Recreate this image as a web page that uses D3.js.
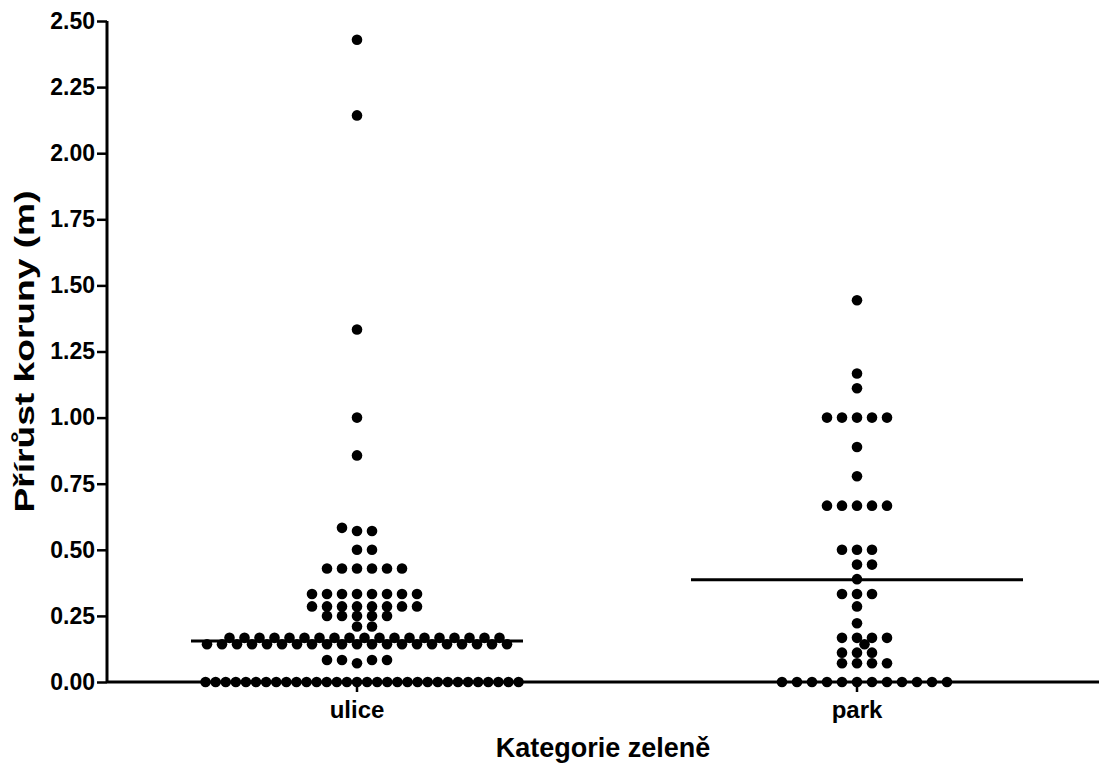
<!DOCTYPE html>
<html>
<head>
<meta charset="utf-8">
<script src="https://cdn.jsdelivr.net/npm/d3@7"></script>
<style>
  body { margin: 0; background: #fff; }
  text { font-family: "Liberation Sans", Arial, sans-serif; font-weight: bold; fill: #000; }
</style>
</head>
<body>
<div id="chart"></div>
<script>
const categories = ["ulice", "park"];

// values, with how many dots sit on each value
const uliceValues = [0, 0.071, 0.083, 0.143, 0.167, 0.21, 0.25, 0.286, 0.333, 0.429, 0.5, 0.571, 0.583, 0.857, 1.0, 1.333, 2.143, 2.429];
const uliceCounts = [32, 1, 4, 21, 19, 2, 5, 8, 8, 6, 2, 2, 1, 1, 1, 1, 1, 1];
const parkValues = [0, 0.071, 0.111, 0.143, 0.167, 0.222, 0.286, 0.333, 0.389, 0.444, 0.5, 0.667, 0.778, 0.889, 1.0, 1.111, 1.167, 1.444];
const parkCounts = [12, 4, 3, 1, 4, 1, 1, 3, 1, 2, 3, 5, 1, 1, 5, 1, 1, 1];
const lineValues = [0.155, 0.387];
const yTicks = [0, 0.25, 0.5, 0.75, 1.0, 1.25, 1.5, 1.75, 2.0, 2.25, 2.5];

const width = 1099, height = 763;
const margin = {top: 21, right: 0, bottom: 81, left: 107};

const svg = d3.select("#chart")
    .append("svg")
    .attr("width", width)
    .attr("height", height);

const x = d3.scaleBand()
    .domain(categories)
    .range([margin.left, margin.left + 1000])
    .padding(0);

const y = d3.scaleLinear()
    .domain([0, 2.5])
    .range([height - margin.bottom, margin.top]);

const dotR = 5.3;
const maxRow = x.bandwidth() * 0.626;

// simple beeswarm: each dot goes to the nearest free spot, right side first
function swarm(values, counts, cat) {
    const cx = x(cat) + x.bandwidth() / 2;
    const placed = [];
    values.forEach(function(v, i) {
        const n = counts[i];
        const py = y(v);
        const gap = Math.min(15, maxRow / Math.max(n - 1, 1));
        for (let j = 0; j < n; j++) {
            for (let k = 0; k < 400; k++) {
                const off = (k % 2 ? 1 : -1) * Math.ceil(k / 2) * gap / 2;
                const px = cx + off;
                const hit = placed.some(function(p) {
                    const dx = Math.abs(p.x - px), dy = Math.abs(p.y - py);
                    if (p.v === v) return dx < gap - 0.01;
                    return dx * dx + dy * dy < 81;
                });
                if (!hit) {
                    placed.push({v: v, x: px, y: py, cat: cat});
                    break;
                }
            }
        }
    });
    return placed;
}

const dots = swarm(uliceValues, uliceCounts, "ulice")
    .concat(swarm(parkValues, parkCounts, "park"));

// axes
const yAxis = svg.append("g")
    .attr("transform", `translate(${margin.left}, 0)`)
    .call(d3.axisLeft(y).tickValues(yTicks).tickFormat(d3.format(".2f")).tickSize(10).tickPadding(2).tickSizeOuter(0));

const xAxis = svg.append("g")
    .attr("transform", `translate(0, ${y(0)})`)
    .call(d3.axisBottom(x).tickSize(10).tickPadding(9).tickSizeOuter(0));

svg.selectAll(".domain")
    .attr("stroke", "#000")
    .attr("stroke-width", 3);
svg.selectAll(".tick line")
    .attr("stroke", "#000")
    .attr("stroke-width", 2.5);

yAxis.selectAll("text")
    .style("font-size", "23px");
xAxis.selectAll("text")
    .style("font-size", "24px");

xAxis.select(".domain").attr("d", `M${margin.left},0H${width}`);
yAxis.select(".domain").attr("d", `M0,${y(0)}V${margin.top}`);

// dots
svg.selectAll(".dot")
    .data(dots)
    .enter().append("circle")
    .attr("class", "dot")
    .attr("cx", function(d) { return d.x; })
    .attr("cy", function(d) { return d.y; })
    .attr("r", dotR)
    .style("fill", "#000");

// median lines
svg.selectAll(".med")
    .data(categories)
    .enter().append("line")
    .attr("class", "med")
    .attr("x1", function(d) { return x(d) + x.bandwidth() * 0.168; })
    .attr("x2", function(d) { return x(d) + x.bandwidth() * 0.832; })
    .attr("y1", function(d, i) { return y(lineValues[i]); })
    .attr("y2", function(d, i) { return y(lineValues[i]); })
    .attr("stroke", "#000")
    .attr("stroke-width", 3);

// axis titles
svg.append("text")
    .attr("x", (margin.left + width) / 2)
    .attr("y", 757)
    .attr("text-anchor", "middle")
    .style("font-size", "27px")
    .text("Kategorie zeleně");

svg.append("text")
    .attr("transform", `translate(34, ${(y(0) + y(2.5)) / 2}) rotate(-90)`)
    .attr("text-anchor", "middle")
    .attr("textLength", 322)
    .attr("lengthAdjust", "spacingAndGlyphs")
    .style("font-size", "28px")
    .text("Přírůst koruny (m)");
</script>
</body>
</html>
